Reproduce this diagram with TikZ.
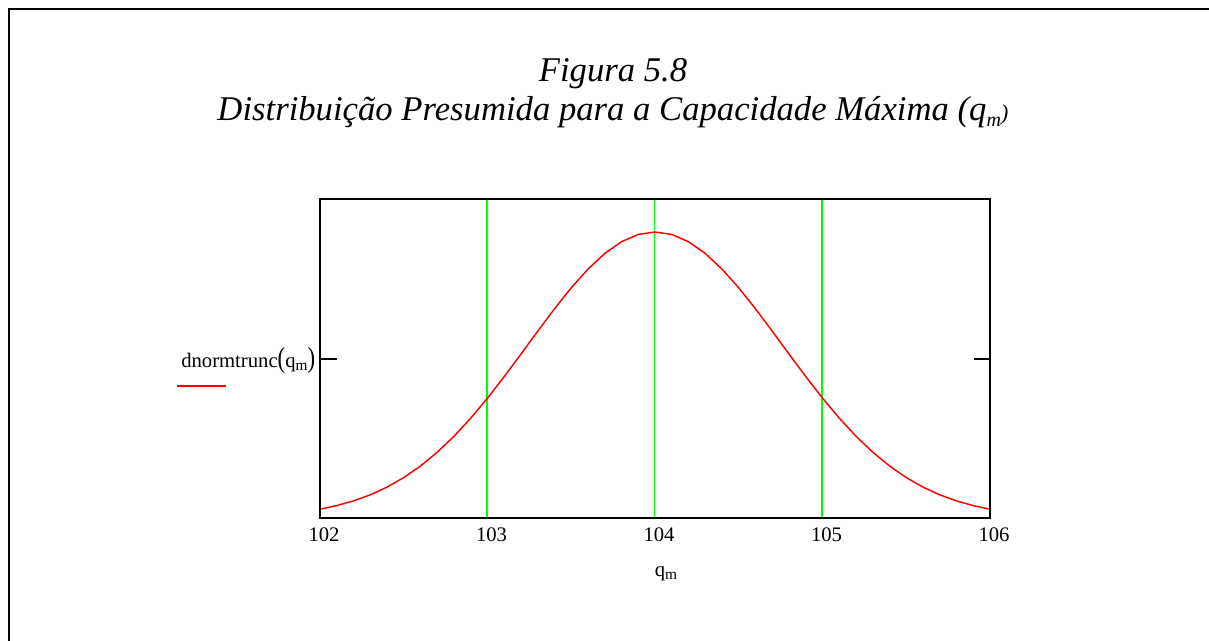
\documentclass[tikz,border=0pt]{standalone}
\usepackage{fontspec}
\setmainfont{Liberation Serif}
\usetikzlibrary{calc}
\definecolor{gridgreen}{RGB}{0,255,0}
\newcommand{\subm}[1]{\raisebox{-0.35ex}{\fontsize{#1}{#1}\selectfont m}}
\newcommand{\dtrunc}[1]{exp(-((#1)-104)^2/1.15)}

\begin{document}
\begin{tikzpicture}[x=0.75pt,y=-0.75pt,
        lbl/.style={font=\fontsize{15.5}{18}\selectfont,inner sep=0pt,anchor=base},
        ttl/.style={font=\fontsize{26}{30}\selectfont\itshape,inner sep=0pt,anchor=base},
        frame/.style={line width=1.5pt},
			]
		\useasboundingbox (0,0) rectangle (1209,641);
		\draw [line width=1.8pt] (9,641) -- (9,9) -- (1209,9);
		% title
		\node[ttl] (fig) at (613,82) {Figura 5.8};
		\node[ttl] (tit) at (613,121) {Distribuição Presumida para a Capacidade Máxima
			(\textit{q}\subm{15}{\fontsize{17}{17}\selectfont)}};
		% grid
		\foreach \gx in {487,654.5,822}
			\draw [gridgreen,line width=1.2pt] (\gx,199) -- (\gx,518);
		% curve
		\draw [red,line width=1.1pt,line join=round]
			plot[domain=102:106,samples=41] ({320+(\x-102)*167.5},{518-286*\dtrunc{\x}});
		% axes
		\draw [frame] (320,199) rectangle (990,518);
		\draw [frame] (320,359) -- (337,359);
		\draw [frame] (990,359) -- (974,359);
		% tick labels
		\foreach \q in {102,...,106}
			\node[lbl] (t\q) at ({324+(\q-102)*167.5},541) {\q};
		\node[lbl] (xlab) at (666,576) {q\subm{11.5}};
		\node[lbl,anchor=base west] (ylab) at (181,367)
			{dnormtrunc\scalebox{1.1}[1.4]{(}q\subm{11.5}\scalebox{1.1}[1.4]{)}};
		\coordinate (k1) at (177,386);
		\coordinate (k2) at (226,386);
		\draw [red,line width=1.1pt] (k1) -- (k2);
	\end{tikzpicture}
\end{document}
